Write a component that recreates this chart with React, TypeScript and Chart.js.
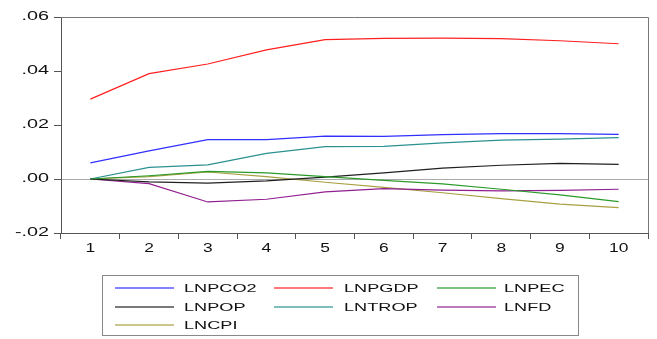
import React, { useEffect, useRef } from "react";
import { Chart, registerables } from "chart.js";

Chart.register(...registerables);

const periods = ["1", "2", "3", "4", "5", "6", "7", "8", "9", "10"];
const seriesNames = ["LNPCO2", "LNPGDP", "LNPEC", "LNPOP", "LNTROP", "LNFD", "LNCPI"];
const seriesColors = ["#3030ff", "#ff2020", "#2a9a2a", "#202020", "#2a9090", "#902090", "#a8a040"];

const lnpco2 = [0.006, 0.0104, 0.0146, 0.0146, 0.0159, 0.0158, 0.0164, 0.0168, 0.0168, 0.0165];
const lnpgdp = [0.0296, 0.039, 0.0426, 0.0478, 0.0516, 0.0521, 0.0522, 0.052, 0.0512, 0.0501];
const lnpec = [0.0, 0.0012, 0.0028, 0.0023, 0.0009, -0.0005, -0.0018, -0.0038, -0.0059, -0.0084];
const lnpop = [0.0, -0.0011, -0.0015, -0.0007, 0.0007, 0.0023, 0.004, 0.0051, 0.0058, 0.0054];
const lntrop = [0.0, 0.0043, 0.0052, 0.0095, 0.012, 0.0121, 0.0134, 0.0144, 0.0148, 0.0153];
const lnfd = [0.0, -0.0017, -0.0085, -0.0075, -0.0048, -0.0036, -0.0041, -0.0044, -0.0042, -0.0038];
const lncpi = [0.0, 0.0009, 0.0026, 0.0009, -0.0012, -0.0031, -0.0051, -0.0073, -0.0093, -0.0106];

const seriesValues = [lnpco2, lnpgdp, lnpec, lnpop, lntrop, lnfd, lncpi];

const FONT = "Arial, 'Liberation Sans', sans-serif";

const stretchPlugin = {
  id: "stretchText",
  beforeDraw(chart: any) {
    const ctx = chart.ctx as any;
    if (ctx.__origFillText) return;
    const orig = ctx.fillText;
    ctx.__origFillText = orig;
    ctx.fillText = function (text: string, x: number, y: number) {
      const sx = this.textAlign === "right" ? 1.65 : 1.45;
      this.save();
      this.translate(x, y);
      this.scale(sx, 1);
      orig.call(this, text, 0, 0);
      this.restore();
    };
  },
};

const framePlugin = {
  id: "frame",
  afterDraw(chart: any) {
    const { ctx, chartArea } = chart;
    ctx.save();
    ctx.strokeStyle = "#777";
    ctx.lineWidth = 1;
    ctx.beginPath();
    ctx.moveTo(chartArea.left, chartArea.top + 0.5);
    ctx.lineTo(chartArea.right + 0.5, chartArea.top + 0.5);
    ctx.lineTo(chartArea.right + 0.5, chartArea.bottom);
    ctx.stroke();
    ctx.restore();
  },
};

export default function App() {
  const ref = useRef<HTMLCanvasElement | null>(null);

  useEffect(() => {
    if (!ref.current) return;
    const chart = new Chart(ref.current, {
      type: "line",
      data: {
        labels: periods,
        datasets: seriesNames.map((name, i) => ({
          label: name,
          data: seriesValues[i],
          borderColor: seriesColors[i],
          borderWidth: 1.2,
          pointRadius: 0,
          tension: 0,
          fill: false,
        })),
      },
      options: {
        responsive: false,
        animation: false,
        layout: { padding: { top: 17, right: 9, bottom: 0, left: 0 } },
        plugins: { legend: { display: false }, tooltip: { enabled: false } },
        scales: {
          x: {
            type: "category",
            offset: true,
            afterFit: (s: any) => {
              s.height = 106;
            },
            grid: {
              offset: true,
              drawOnChartArea: false,
              drawTicks: true,
              tickLength: 6,
              tickColor: "#555",
            },
            border: { display: true, color: "#555", width: 1 },
            ticks: {
              color: "#111",
              font: { family: FONT, size: 12 },
              padding: 2,
              maxRotation: 0,
              autoSkip: false,
            },
          },
          y: {
            min: -0.02,
            max: 0.06,
            afterFit: (s: any) => {
              s.width = 61;
            },
            grid: {
              color: (c: any) => (c.tick && Math.abs(c.tick.value) < 1e-9 ? "#aaa" : "rgba(0,0,0,0)"),
              drawTicks: true,
              tickLength: 7,
              tickColor: "#555",
            },
            border: { display: true, color: "#555", width: 1 },
            ticks: {
              stepSize: 0.02,
              color: "#111",
              font: { family: FONT, size: 12 },
              padding: 5,
              callback: (v: any) => {
                const n = Number(v);
                const s = Math.abs(n).toFixed(2).replace(/^0/, "");
                return n < -1e-9 ? "-" + s : s;
              },
            },
          },
        },
      },
      plugins: [stretchPlugin, framePlugin],
    } as any);
    return () => chart.destroy();
  }, []);

  const colLine = [12, 171, 334];
  const colText = [81, 241, 401];
  const rowY = [12, 30.5, 49];

  return (
    <div style={{ position: "fixed", left: 0, top: 0, width: 657, height: 339, background: "#fff" }}>
      <canvas ref={ref} width={657} height={339} style={{ display: "block" }} />
      <div
        style={{
          position: "absolute",
          left: 102,
          top: 275,
          width: 477,
          height: 61,
          border: "1px solid #888",
          boxSizing: "border-box",
          fontFamily: FONT,
          fontSize: 11,
          color: "#111",
        }}
      >
        {seriesNames.map((name, i) => {
          const col = i % 3;
          const row = Math.floor(i / 3);
          return (
            <React.Fragment key={name}>
              <div
                style={{
                  position: "absolute",
                  left: colLine[col],
                  top: rowY[row] - 1,
                  width: 59,
                  height: 2,
                  background: seriesColors[i],
                  opacity: 0.6,
                }}
              />
              <div
                style={{
                  position: "absolute",
                  left: colText[col],
                  top: rowY[row] - 7,
                  lineHeight: "14px",
                  whiteSpace: "nowrap",
                  transform: "scaleX(1.65)",
                  transformOrigin: "left center",
                }}
              >
                {name}
              </div>
            </React.Fragment>
          );
        })}
      </div>
    </div>
  );
}
